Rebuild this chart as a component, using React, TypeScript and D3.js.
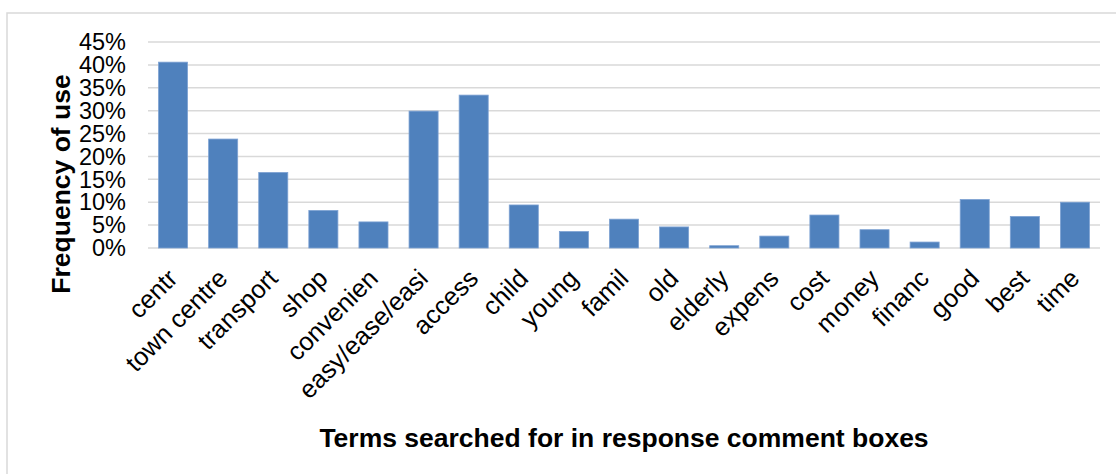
import React from "react";
import * as d3 from "d3";

const categories = ["centr", "town centre", "transport", "shop", "convenien", "easy/ease/easi", "access", "child", "young", "famil", "old", "elderly", "expens", "cost", "money", "financ", "good", "best", "time"];
const values = [40.6, 23.8, 16.5, 8.2, 5.7, 29.9, 33.4, 9.4, 3.6, 6.3, 4.6, 0.5, 2.6, 7.2, 4.0, 1.3, 10.6, 6.9, 10.0];
const yTicks = [0, 5, 10, 15, 20, 25, 30, 35, 40, 45];
const yTitle = "Frequency of use";
const xTitle = "Terms searched for in response comment boxes";

const W = 1116;
const H = 474;
const plot = { left: 148, right: 1100, top: 42, bottom: 248 };
const font = "Arial, 'Liberation Sans', Helvetica, sans-serif";

export default function App() {
  const x = d3.scaleBand<string>().domain(categories).range([plot.left, plot.right]).paddingInner(0.42).paddingOuter(0.21);
  const y = d3.scaleLinear().domain([0, 45]).range([plot.bottom, plot.top]);
  return (
    <svg width={W} height={H} style={{ position: "absolute", left: 0, top: 0, background: "#fff" }} fontFamily={font}>
      <rect x={7} y={13} width={1300} height={600} fill="#fff" stroke="#d9d9d9" strokeWidth={1.5} />
      {yTicks.map((t) => (
        <g key={t}>
          <line x1={plot.left} x2={plot.right} y1={y(t)} y2={y(t)} stroke="#d9d9d9" strokeWidth={1.5} />
          <text x={126} y={y(t)} dy="0.35em" textAnchor="end" fontSize={23.5} fill="#000">{t}%</text>
        </g>
      ))}
      {categories.map((c, i) => (
        <rect key={c} x={x(c)} y={y(values[i])} width={x.bandwidth()} height={y(0) - y(values[i])} fill="#4f81bd" stroke="#7ea2d3" strokeWidth={0.8} />
      ))}
      {categories.map((c) => {
        const cx = (x(c) as number) + x.bandwidth() / 2;
        return (
          <text key={c} transform={`translate(${cx + 6},${280}) rotate(-45)`} textAnchor="end" fontSize={25.5} fill="#000">{c}</text>
        );
      })}
      <text transform={`translate(60,${184}) rotate(-90)`} textAnchor="middle" dy="0.36em" fontSize={26.5} fontWeight="bold" fill="#000">{yTitle}</text>
      <text x={624} y={437} dy="0.36em" textAnchor="middle" fontSize={26.5} fontWeight="bold" fill="#000">{xTitle}</text>
    </svg>
  );
}
